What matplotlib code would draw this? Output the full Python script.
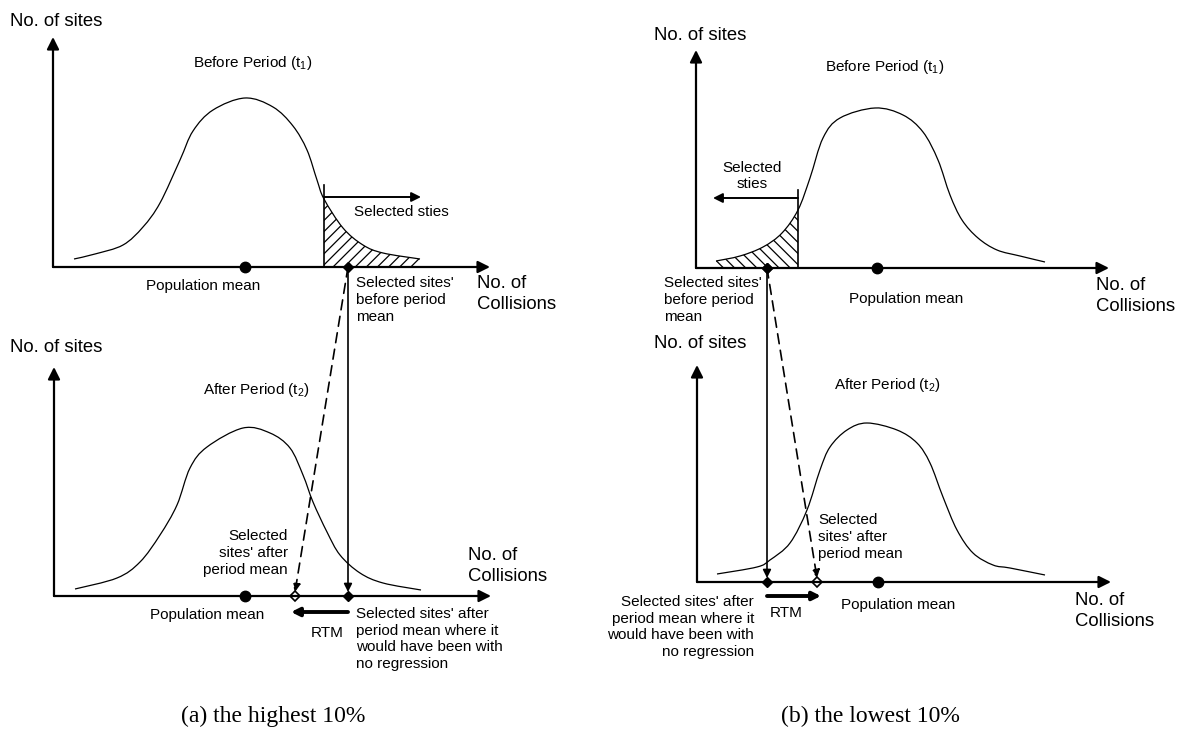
import numpy as np
import matplotlib.pyplot as plt
from matplotlib.path import Path
from matplotlib.patches import PathPatch, Rectangle

plt.rcParams['font.family'] = ['Liberation Sans', 'DejaVu Sans']
plt.rcParams['mathtext.fontset'] = 'custom'
plt.rcParams['mathtext.rm'] = 'Liberation Sans'
plt.rcParams['mathtext.default'] = 'regular'
plt.rcParams['hatch.linewidth'] = 0.9

# curves (pixel coords, y downwards)
a_top_x = [74, 95, 123, 143, 160, 180, 193, 213, 245, 273, 293, 307, 317, 324, 343, 363, 383, 420]
a_top_y = [259, 254, 245, 227, 203, 160, 131, 110, 98, 107, 126, 150, 180, 199, 228, 245, 253, 259]
a_bot_x = [75, 117, 140, 160, 177, 190, 207, 243, 270, 290, 303, 313, 327, 340, 360, 383, 421]
a_bot_y = [589, 578, 562, 535, 505, 468, 447, 428, 433, 448, 475, 502, 532, 555, 573, 583, 590]
b_top_x = [716, 740, 763, 782, 798, 810, 823, 840, 875, 903, 923, 938, 950, 962, 978, 997, 1020, 1045]
b_top_y = [261, 256, 247, 233, 210, 178, 138, 118, 108, 115, 132, 160, 195, 220, 238, 250, 256, 262]
b_bot_x = [717, 757, 770, 790, 807, 820, 830, 847, 867, 897, 917, 930, 943, 957, 973, 993, 1010, 1045]
b_bot_y = [574, 567, 560, 543, 510, 470, 447, 430, 423, 430, 443, 463, 497, 530, 553, 565, 568, 575]

# key points: cut-off, population mean, selected mean (before / after)
a_cut, a_pop, a_sel, a_after = 324, 245, 348, 295
b_cut, b_pop, b_sel, b_after = 798, 877, 767, 817

fig = plt.figure(figsize=(11.79, 7.56), dpi=100)
ax = fig.add_axes([0, 0, 1, 1])
ax.set_xlim(0, 1179)
ax.set_ylim(756, 0)
ax.axis('off')

small = 11.0
big = 13.3


def smooth_path(xs, ys, base=None):
    # Catmull-Rom through the points, drawn as cubic Bezier segments
    p = np.column_stack([xs, ys]).astype(float)
    pts = np.vstack([p[0], p, p[-1]])
    verts = [p[0]]
    codes = [Path.MOVETO]
    for i in range(1, len(pts) - 2):
        c1 = pts[i] + (pts[i + 1] - pts[i - 1]) / 6
        c2 = pts[i + 1] - (pts[i + 2] - pts[i]) / 6
        verts += [c1, c2, pts[i + 1]]
        codes += [Path.CURVE4] * 3
    if base is not None:
        verts += [(p[-1][0], base), (p[0][0], base), p[0]]
        codes += [Path.LINETO, Path.LINETO, Path.CLOSEPOLY]
    return Path(verts, codes)


def bell(xs, ys, base, cut=None, side=None, hatch=None):
    ax.add_patch(PathPatch(smooth_path(xs, ys), facecolor='none', edgecolor='black', lw=0.9))
    if cut is None:
        return
    region = PathPatch(smooth_path(xs, ys, base), facecolor='none', edgecolor='none')
    ax.add_patch(region)
    x0 = cut if side == 'right' else xs[0] - 5
    x1 = xs[-1] + 5 if side == 'right' else cut
    r = Rectangle((x0, base - 200), x1 - x0, 200, facecolor='none', edgecolor='black',
                  hatch=hatch, lw=0)
    ax.add_patch(r)
    r.set_clip_path(region)


def arrow(x0, y0, x1, y1, lw=1.5, ms=16, ls='-'):
    ax.annotate('', xy=(x1, y1), xytext=(x0, y0),
                arrowprops=dict(arrowstyle='-|>', lw=lw, color='black', linestyle=ls,
                                mutation_scale=ms, shrinkA=0, shrinkB=0))


def axes_pair(x0, ybase, ytop, xend):
    arrow(x0, ybase, x0, ytop, lw=1.6, ms=18)
    arrow(x0, ybase, xend, ybase, lw=1.6, ms=18)


def label(x, y, s, size=small, ha='left'):
    ax.text(x, y, s, fontsize=size, ha=ha, va='center', multialignment=ha,
            linespacing=1.24 if size == big else 1.27)


def means(pop, sel, after, ytop, ybase):
    ax.plot(pop, ybase, 'o', color='black', ms=7.5)
    arrow(sel, ytop, sel, ybase - 4, lw=1.2, ms=12)
    arrow(sel, ytop, after, ybase - 4, lw=1.2, ms=12, ls=(0, (6, 4)))
    ax.plot(sel, ytop, 'D', color='black', ms=5)
    ax.plot(sel, ybase, 'D', color='black', ms=5)
    ax.plot(after, ybase, 'D', mfc='white', mec='black', mew=1.2, ms=5)


# ---- panel (a) top ----
axes_pair(53, 267, 37, 490)
bell(a_top_x, a_top_y, 267, a_cut, 'right', '///')
ax.plot([a_cut, a_cut], [267, 185], color='black', lw=1.2)
arrow(a_cut, 197, 421, 197, lw=1.4, ms=14)
label(354, 212, 'Selected sties')
ax.plot(a_pop, 267, 'o', color='black', ms=7.5)
label(203, 286, 'Population mean', ha='center')
label(10, 22, 'No. of sites', size=big)
label(253, 63, 'Before Period (t$_1$)', ha='center')
label(356, 300, "Selected sites'\nbefore period\nmean")
label(477, 294, 'No. of\nCollisions', size=big)

# ---- panel (a) bottom ----
axes_pair(54, 596, 367, 491)
bell(a_bot_x, a_bot_y, 596)
means(a_pop, a_sel, a_after, 267, 596)
arrow(a_sel, 612, a_after - 4, 612, lw=2.8, ms=12)
label(327, 633, 'RTM', ha='center')
label(207, 615, 'Population mean', ha='center')
label(10, 347, 'No. of sites', size=big)
label(256, 390, 'After Period (t$_2$)', ha='center')
label(288, 553, "Selected\nsites' after\nperiod mean", ha='right')
label(356, 639, "Selected sites' after\nperiod mean where it\nwould have been with\nno regression")
label(468, 566, 'No. of\nCollisions', size=big)

# ---- panel (b) top ----
axes_pair(696, 268, 50, 1109)
bell(b_top_x, b_top_y, 268, b_cut, 'left', '\\\\\\')
ax.plot([b_cut, b_cut], [268, 190], color='black', lw=1.2)
arrow(b_cut, 198, 713, 198, lw=1.4, ms=14)
label(752, 176, 'Selected\nsties', ha='center')
ax.plot(b_pop, 268, 'o', color='black', ms=7.5)
ax.plot(b_sel, 268, 'D', color='black', ms=5)
label(906, 299, 'Population mean', ha='center')
label(654, 35, 'No. of sites', size=big)
label(885, 67, 'Before Period (t$_1$)', ha='center')
label(664, 300, "Selected sites'\nbefore period\nmean")
label(1096, 296, 'No. of\nCollisions', size=big)

# ---- panel (b) bottom ----
axes_pair(697, 582, 365, 1111)
bell(b_bot_x, b_bot_y, 582)
means(b_pop + 1, b_sel, b_after, 268, 582)
arrow(b_sel, 596, b_after + 4, 596, lw=2.8, ms=12)
label(786, 613, 'RTM', ha='center')
label(898, 605, 'Population mean', ha='center')
label(654, 343, 'No. of sites', size=big)
label(887, 385, 'After Period (t$_2$)', ha='center')
label(818, 537, "Selected\nsites' after\nperiod mean")
label(754, 627, "Selected sites' after\nperiod mean where it\nwould have been with\nno regression", ha='right')
label(1075, 611, 'No. of\nCollisions', size=big)

# captions
ax.text(273, 716, '(a) the highest 10%', fontsize=17, family='Liberation Serif',
        ha='center', va='center')
ax.text(870, 716, '(b) the lowest 10%', fontsize=17, family='Liberation Serif',
        ha='center', va='center')

plt.savefig('out.png', dpi=100)
